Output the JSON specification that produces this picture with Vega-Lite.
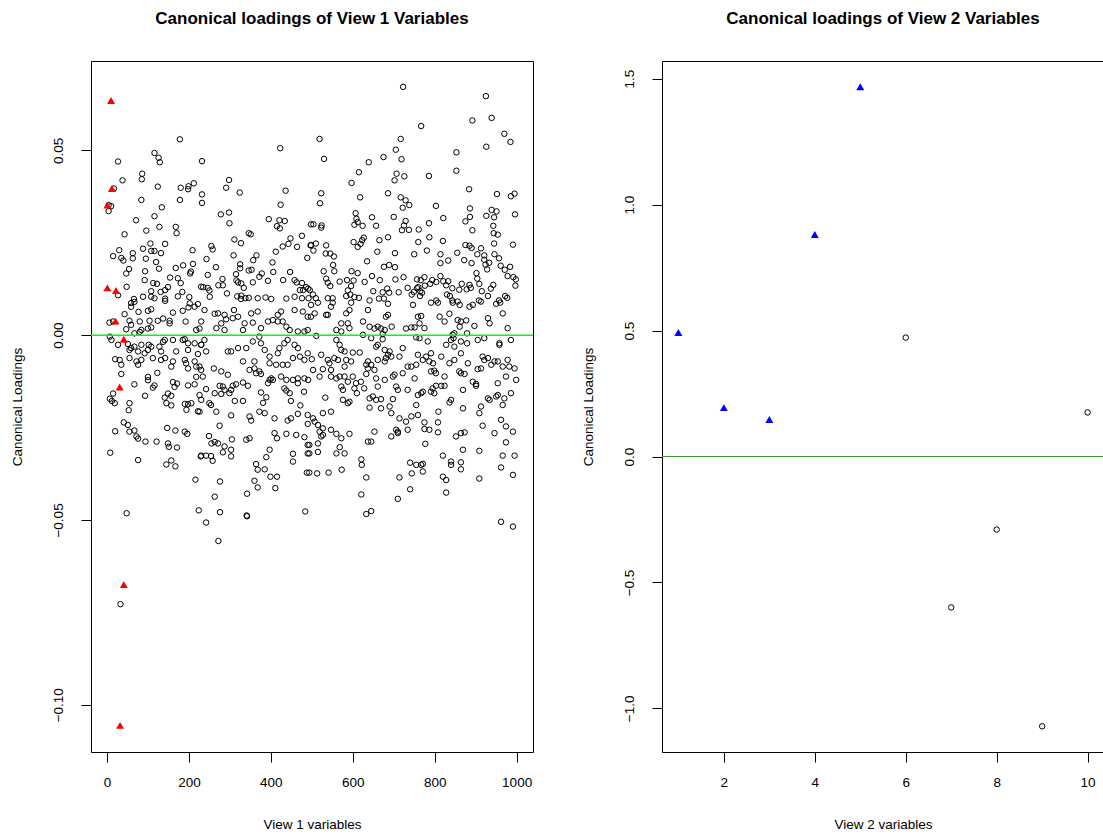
{
"$schema": "https://vega.github.io/schema/vega-lite/v6.json",
"background": "white",
"padding": {"left": 9, "top": 9, "right": 0, "bottom": 0},
"spacing": 45,
"config": {
  "font": "Liberation Sans",
  "view": {"stroke": "black", "strokeWidth": 1},
  "axis": {"domain": false, "grid": false, "ticks": true, "tickColor": "black", "tickSize": 10, "labelFont": "Liberation Sans", "labelFontSize": 13.5, "labelColor": "black", "labelOverlap": false, "labelFlush": false, "titleFont": "Liberation Sans", "titleFontSize": 13.5, "titleFontWeight": "normal", "titleColor": "black"},
  "axisX": {"labelPadding": 13, "titleY": 65},
  "axisY": {"labelAngle": -90, "labelAlign": "center", "labelBaseline": "alphabetic", "labelPadding": 19, "titleX": -67},
  "title": {"font": "Liberation Sans", "fontSize": 17, "fontWeight": "bold", "color": "black", "offset": 33, "frame": "group", "anchor": "middle"}
},
"datasets": {
"v1t": [{"x":10,"y":0.0635},{"x":12,"y":0.0397},{"x":1,"y":0.0352},{"x":1,"y":0.0128},{"x":22,"y":0.0121},{"x":21,"y":0.0038},{"x":41,"y":-0.0011},{"x":31,"y":-0.014},{"x":41,"y":-0.0675},{"x":32,"y":-0.1056}],
"v1c": [
{"x":178,"y":0.053},{"x":116,"y":0.0493},{"x":126,"y":0.048},{"x":129,"y":0.0468},{"x":27,"y":0.047},{"x":86,"y":0.0437},{"x":85,"y":0.0422},{"x":38,"y":0.0419},{"x":17,"y":0.0397},{"x":124,"y":0.0402},{"x":180,"y":0.0399},{"x":198,"y":0.0395},{"x":199,"y":0.0403},{"x":212,"y":0.0411},{"x":84,"y":0.0366},{"x":178,"y":0.0366},{"x":134,"y":0.0346},{"x":4,"y":0.0352},{"x":10,"y":0.0349},{"x":4,"y":0.0336},{"x":116,"y":0.0322},{"x":71,"y":0.0311},{"x":128,"y":0.0293},{"x":168,"y":0.0293},{"x":170,"y":0.0276},{"x":96,"y":0.0283},{"x":43,"y":0.0273},{"x":106,"y":0.0248},{"x":142,"y":0.0247},{"x":88,"y":0.0234},{"x":108,"y":0.0228},{"x":116,"y":0.0228},{"x":30,"y":0.023},{"x":15,"y":0.0214},{"x":35,"y":0.0209},{"x":40,"y":0.0202},{"x":63,"y":0.0222},{"x":63,"y":0.0208},{"x":95,"y":0.0207},{"x":132,"y":0.0222},{"x":209,"y":0.023},{"x":120,"y":0.0198},{"x":127,"y":0.018},{"x":54,"y":0.0179},{"x":47,"y":0.0167},{"x":93,"y":0.0173},{"x":168,"y":0.0182},{"x":186,"y":0.0189},{"x":210,"y":0.0193},{"x":205,"y":0.0172},{"x":203,"y":0.0167},{"x":92,"y":0.0149},{"x":154,"y":0.0156},{"x":173,"y":0.0154},{"x":180,"y":0.0141},{"x":113,"y":0.0141},{"x":122,"y":0.0139},{"x":149,"y":0.013},{"x":142,"y":0.0122},{"x":48,"y":0.0131},{"x":108,"y":0.0119},{"x":131,"y":0.0117},{"x":184,"y":0.0117},{"x":201,"y":0.0103},{"x":173,"y":0.0105},{"x":88,"y":0.0104},{"x":108,"y":0.0104},{"x":116,"y":0.01},{"x":66,"y":0.0098},{"x":142,"y":0.0099},{"x":27,"y":0.0108},{"x":230,"y":0.0131},{"x":232,"y":0.0471},{"x":232,"y":0.0381},{"x":232,"y":0.0358},
{"x":423,"y":0.0506},{"x":298,"y":0.042},{"x":291,"y":0.0399},{"x":324,"y":0.0386},{"x":436,"y":0.0391},{"x":424,"y":0.0353},{"x":278,"y":0.0327},{"x":298,"y":0.0332},{"x":299,"y":0.0303},{"x":395,"y":0.0314},{"x":421,"y":0.0311},{"x":415,"y":0.0295},{"x":422,"y":0.0289},{"x":434,"y":0.0309},{"x":498,"y":0.03},{"x":346,"y":0.0276},{"x":351,"y":0.0273},{"x":311,"y":0.0259},{"x":327,"y":0.0249},{"x":448,"y":0.0262},{"x":443,"y":0.0247},{"x":429,"y":0.024},{"x":476,"y":0.0269},{"x":464,"y":0.0239},{"x":497,"y":0.0243},{"x":255,"y":0.0241},{"x":258,"y":0.0232},{"x":412,"y":0.0226},{"x":309,"y":0.0216},{"x":365,"y":0.0216},{"x":357,"y":0.0203},{"x":243,"y":0.0206},{"x":489,"y":0.0209},{"x":404,"y":0.0197},{"x":266,"y":0.0184},{"x":325,"y":0.0192},{"x":325,"y":0.0181},{"x":346,"y":0.0175},{"x":353,"y":0.0177},{"x":246,"y":0.0163},{"x":315,"y":0.0165},{"x":378,"y":0.0167},{"x":372,"y":0.0158},{"x":406,"y":0.0171},{"x":447,"y":0.0171},{"x":282,"y":0.0152},{"x":272,"y":0.0135},{"x":283,"y":0.0135},{"x":316,"y":0.0148},{"x":320,"y":0.0143},{"x":328,"y":0.014},{"x":334,"y":0.0128},{"x":356,"y":0.0143},{"x":393,"y":0.0147},{"x":430,"y":0.0149},{"x":458,"y":0.0149},{"x":463,"y":0.0143},{"x":476,"y":0.0141},{"x":235,"y":0.013},{"x":246,"y":0.0128},{"x":250,"y":0.0121},{"x":471,"y":0.0122},{"x":479,"y":0.0122},{"x":486,"y":0.013},{"x":495,"y":0.0122},{"x":251,"y":0.0104},{"x":293,"y":0.0113},{"x":318,"y":0.0105},{"x":328,"y":0.0107},{"x":338,"y":0.01},{"x":327,"y":0.0098},{"x":346,"y":0.0101},{"x":368,"y":0.01},{"x":387,"y":0.0102},{"x":401,"y":0.0098},{"x":438,"y":0.0099},{"x":458,"y":0.0104},{"x":476,"y":0.01},{"x":492,"y":0.01},
{"x":723,"y":0.0672},{"x":767,"y":0.0566},{"x":519,"y":0.0531},{"x":717,"y":0.0531},{"x":705,"y":0.0502},{"x":719,"y":0.0476},{"x":530,"y":0.0477},{"x":675,"y":0.0482},{"x":639,"y":0.0468},{"x":615,"y":0.0441},{"x":707,"y":0.0437},{"x":702,"y":0.0419},{"x":726,"y":0.043},{"x":597,"y":0.0412},{"x":523,"y":0.0384},{"x":520,"y":0.0357},{"x":618,"y":0.0373},{"x":686,"y":0.0384},{"x":717,"y":0.0373},{"x":729,"y":0.0365},{"x":738,"y":0.0352},{"x":722,"y":0.0345},{"x":607,"y":0.033},{"x":609,"y":0.0315},{"x":612,"y":0.0306},{"x":604,"y":0.0299},{"x":624,"y":0.0296},{"x":647,"y":0.0319},{"x":657,"y":0.0296},{"x":700,"y":0.032},{"x":729,"y":0.0309},{"x":725,"y":0.0297},{"x":720,"y":0.0284},{"x":737,"y":0.0285},{"x":504,"y":0.03},{"x":524,"y":0.0297},{"x":523,"y":0.0291},{"x":761,"y":0.0286},{"x":602,"y":0.0252},{"x":612,"y":0.0239},{"x":619,"y":0.0247},{"x":627,"y":0.0264},{"x":623,"y":0.0257},{"x":665,"y":0.0257},{"x":686,"y":0.0265},{"x":760,"y":0.0252},{"x":498,"y":0.0244},{"x":510,"y":0.0248},{"x":504,"y":0.0229},{"x":535,"y":0.0243},{"x":534,"y":0.0221},{"x":545,"y":0.0221},{"x":554,"y":0.0213},{"x":660,"y":0.0226},{"x":703,"y":0.0222},{"x":750,"y":0.0219},{"x":635,"y":0.02},{"x":552,"y":0.019},{"x":555,"y":0.0173},{"x":676,"y":0.0185},{"x":689,"y":0.019},{"x":703,"y":0.0184},{"x":529,"y":0.0173},{"x":597,"y":0.0173},{"x":612,"y":0.0168},{"x":647,"y":0.016},{"x":666,"y":0.0149},{"x":535,"y":0.0153},{"x":539,"y":0.0142},{"x":545,"y":0.0133},{"x":568,"y":0.0145},{"x":586,"y":0.0149},{"x":602,"y":0.0148},{"x":596,"y":0.0133},{"x":629,"y":0.0144},{"x":704,"y":0.0151},{"x":724,"y":0.0157},{"x":757,"y":0.0151},{"x":491,"y":0.0126},{"x":503,"y":0.011},{"x":510,"y":0.01},{"x":539,"y":0.01},{"x":551,"y":0.01},{"x":588,"y":0.0121},{"x":594,"y":0.011},{"x":584,"y":0.0106},{"x":604,"y":0.0103},{"x":615,"y":0.0101},{"x":650,"y":0.0119},{"x":673,"y":0.0116},{"x":684,"y":0.0126},{"x":689,"y":0.0115},{"x":712,"y":0.0116},{"x":734,"y":0.0128},{"x":744,"y":0.011},{"x":749,"y":0.0117},{"x":757,"y":0.0127},{"x":765,"y":0.0119},{"x":664,"y":0.0099},{"x":676,"y":0.0099},
{"x":925,"y":0.0647},{"x":892,"y":0.0581},{"x":939,"y":0.0588},{"x":970,"y":0.0545},{"x":985,"y":0.0523},{"x":926,"y":0.051},{"x":853,"y":0.0495},{"x":853,"y":0.0445},{"x":786,"y":0.0431},{"x":884,"y":0.0395},{"x":952,"y":0.0382},{"x":986,"y":0.0376},{"x":995,"y":0.0383},{"x":803,"y":0.035},{"x":886,"y":0.0343},{"x":886,"y":0.032},{"x":875,"y":0.0308},{"x":939,"y":0.0339},{"x":951,"y":0.0335},{"x":945,"y":0.0319},{"x":926,"y":0.0323},{"x":996,"y":0.0327},{"x":821,"y":0.0317},{"x":786,"y":0.0303},{"x":787,"y":0.0265},{"x":820,"y":0.0255},{"x":892,"y":0.0284},{"x":943,"y":0.0296},{"x":944,"y":0.0276},{"x":954,"y":0.0272},{"x":945,"y":0.0248},{"x":875,"y":0.0244},{"x":885,"y":0.0242},{"x":890,"y":0.0236},{"x":913,"y":0.0235},{"x":991,"y":0.0245},{"x":781,"y":0.0229},{"x":855,"y":0.0223},{"x":814,"y":0.0219},{"x":814,"y":0.0195},{"x":833,"y":0.0202},{"x":872,"y":0.0203},{"x":890,"y":0.0195},{"x":904,"y":0.0219},{"x":921,"y":0.0216},{"x":921,"y":0.0204},{"x":933,"y":0.0196},{"x":924,"y":0.0191},{"x":928,"y":0.0178},{"x":946,"y":0.0219},{"x":957,"y":0.0208},{"x":961,"y":0.0188},{"x":971,"y":0.0177},{"x":984,"y":0.0185},{"x":978,"y":0.016},{"x":992,"y":0.0157},{"x":998,"y":0.0151},{"x":997,"y":0.0134},{"x":902,"y":0.0168},{"x":904,"y":0.0153},{"x":775,"y":0.0157},{"x":794,"y":0.0149},{"x":814,"y":0.016},{"x":804,"y":0.0144},{"x":789,"y":0.0139},{"x":766,"y":0.0149},{"x":760,"y":0.013},{"x":776,"y":0.0134},{"x":769,"y":0.0115},{"x":821,"y":0.0146},{"x":833,"y":0.0146},{"x":828,"y":0.0135},{"x":866,"y":0.0139},{"x":885,"y":0.0136},{"x":878,"y":0.0124},{"x":888,"y":0.0128},{"x":909,"y":0.0139},{"x":915,"y":0.0119},{"x":930,"y":0.0106},{"x":943,"y":0.0136},{"x":937,"y":0.0126},{"x":830,"y":0.011},{"x":837,"y":0.0106},{"x":843,"y":0.0127},{"x":860,"y":0.0123},{"x":972,"y":0.0106},{"x":977,"y":0.0101},{"x":764,"y":0.0106},{"x":804,"y":0.0094},{"x":843,"y":0.0094},{"x":908,"y":0.0094},{"x":957,"y":0.0094},
{"x":59,"y":0.0087},{"x":142,"y":0.0093},{"x":202,"y":0.0086},{"x":222,"y":0.0084},{"x":67,"y":0.009},{"x":43,"y":0.0057},{"x":59,"y":0.0077},{"x":77,"y":0.0063},{"x":100,"y":0.0066},{"x":108,"y":0.007},{"x":161,"y":0.0061},{"x":185,"y":0.0066},{"x":199,"y":0.0075},{"x":214,"y":0.0077},{"x":6,"y":0.0034},{"x":15,"y":0.0037},{"x":55,"y":0.0039},{"x":59,"y":0.0028},{"x":80,"y":0.0037},{"x":104,"y":0.0039},{"x":108,"y":0.0021},{"x":124,"y":0.0039},{"x":137,"y":0.0045},{"x":153,"y":0.0039},{"x":153,"y":0.0032},{"x":192,"y":0.0037},{"x":47,"y":0.0016},{"x":67,"y":0.0005},{"x":84,"y":0.0014},{"x":100,"y":0.0018},{"x":80,"y":0.0009},{"x":218,"y":0.0014},{"x":226,"y":0.0018},{"x":7,"y":-0.0004},{"x":11,"y":-0.0013},{"x":27,"y":-0.0026},{"x":51,"y":-0.0024},{"x":59,"y":-0.0035},{"x":67,"y":-0.0031},{"x":84,"y":-0.0026},{"x":102,"y":-0.0026},{"x":108,"y":-0.0031},{"x":128,"y":-0.0031},{"x":137,"y":-0.0018},{"x":141,"y":-0.0013},{"x":161,"y":-0.0013},{"x":185,"y":-0.0013},{"x":190,"y":-0.0011},{"x":198,"y":-0.0022},{"x":214,"y":-0.0022},{"x":230,"y":-0.0026},{"x":55,"y":-0.004},{"x":76,"y":-0.0044},{"x":92,"y":-0.0049},{"x":100,"y":-0.004},{"x":132,"y":-0.0044},{"x":142,"y":-0.0062},{"x":169,"y":-0.0044},{"x":198,"y":-0.004},{"x":222,"y":-0.0051},{"x":20,"y":-0.0065},{"x":31,"y":-0.0067},{"x":35,"y":-0.008},{"x":55,"y":-0.0062},{"x":72,"y":-0.0071},{"x":76,"y":-0.008},{"x":84,"y":-0.0067},{"x":112,"y":-0.0062},{"x":132,"y":-0.0067},{"x":161,"y":-0.0071},{"x":157,"y":-0.0085},{"x":190,"y":-0.0067},{"x":193,"y":-0.0076},{"x":198,"y":-0.009},{"x":214,"y":-0.0071},{"x":218,"y":-0.0085},{"x":35,"y":-0.0105},{"x":123,"y":-0.0102},{"x":100,"y":-0.0113},{"x":100,"y":-0.0122},{"x":116,"y":-0.0136},{"x":112,"y":-0.0142},{"x":67,"y":-0.0133},{"x":161,"y":-0.0127},{"x":165,"y":-0.014},{"x":149,"y":-0.0158},{"x":157,"y":-0.0164},{"x":171,"y":-0.0131},{"x":198,"y":-0.0136},{"x":214,"y":-0.0133},{"x":218,"y":-0.0113},{"x":15,"y":-0.0158},{"x":7,"y":-0.0172},{"x":12,"y":-0.0178},{"x":19,"y":-0.0184},{"x":93,"y":-0.0164},{"x":141,"y":-0.0169},{"x":145,"y":-0.0184},{"x":157,"y":-0.019},{"x":190,"y":-0.0186},{"x":198,"y":-0.0187},{"x":206,"y":-0.0184},{"x":194,"y":-0.0202},{"x":55,"y":-0.0184},{"x":53,"y":-0.0203},{"x":222,"y":-0.0206},{"x":41,"y":-0.0236},{"x":51,"y":-0.0243},{"x":20,"y":-0.026},{"x":55,"y":-0.0261},{"x":67,"y":-0.0258},{"x":72,"y":-0.0274},{"x":76,"y":-0.028},{"x":94,"y":-0.0288},{"x":121,"y":-0.0288},{"x":147,"y":-0.0251},{"x":167,"y":-0.0258},{"x":190,"y":-0.0261},{"x":196,"y":-0.0267},{"x":149,"y":-0.0293},{"x":151,"y":-0.0302},{"x":171,"y":-0.0304},{"x":8,"y":-0.0318},{"x":76,"y":-0.0338},{"x":157,"y":-0.0339},{"x":145,"y":-0.035},{"x":167,"y":-0.0355},{"x":229,"y":-0.0328},{"x":216,"y":-0.0391},{"x":48,"y":-0.0482},{"x":224,"y":-0.0474},
{"x":238,"y":0.0068},{"x":263,"y":0.0058},{"x":271,"y":0.0059},{"x":287,"y":0.0055},{"x":291,"y":0.0043},{"x":279,"y":0.0032},{"x":267,"y":0.0019},{"x":287,"y":0.0014},{"x":310,"y":0.0068},{"x":307,"y":0.0046},{"x":320,"y":0.005},{"x":336,"y":0.0032},{"x":332,"y":0.0014},{"x":352,"y":0.0059},{"x":368,"y":0.0064},{"x":356,"y":0.0034},{"x":376,"y":0.0019},{"x":393,"y":0.0037},{"x":405,"y":0.0041},{"x":417,"y":0.0055},{"x":425,"y":0.0064},{"x":417,"y":0.0037},{"x":429,"y":0.0037},{"x":438,"y":0.0023},{"x":446,"y":0.0014},{"x":458,"y":0.0068},{"x":478,"y":0.0064},{"x":490,"y":0.005},{"x":466,"y":0.001},{"x":482,"y":0.001},{"x":490,"y":0.0014},{"x":230,"y":0.0037},{"x":238,"y":-0.0013},{"x":230,"y":-0.0026},{"x":242,"y":-0.0044},{"x":295,"y":-0.0044},{"x":303,"y":-0.0044},{"x":320,"y":-0.0035},{"x":340,"y":-0.0035},{"x":356,"y":-0.0017},{"x":372,"y":-0.0004},{"x":376,"y":-0.0022},{"x":385,"y":-0.004},{"x":397,"y":-0.0058},{"x":417,"y":-0.0049},{"x":421,"y":-0.0035},{"x":433,"y":-0.0022},{"x":441,"y":-0.0013},{"x":458,"y":-0.0026},{"x":466,"y":-0.0035},{"x":454,"y":-0.0062},{"x":471,"y":-0.0058},{"x":482,"y":-0.0067},{"x":490,"y":-0.0049},{"x":332,"y":-0.0071},{"x":360,"y":-0.0071},{"x":397,"y":-0.0076},{"x":413,"y":-0.008},{"x":429,"y":-0.008},{"x":441,"y":-0.008},{"x":226,"y":-0.0085},{"x":230,"y":-0.0094},{"x":234,"y":-0.0112},{"x":261,"y":-0.009},{"x":279,"y":-0.0098},{"x":295,"y":-0.0107},{"x":348,"y":-0.0094},{"x":360,"y":-0.009},{"x":364,"y":-0.0103},{"x":372,"y":-0.0098},{"x":376,"y":-0.0105},{"x":397,"y":-0.0121},{"x":401,"y":-0.0117},{"x":393,"y":-0.013},{"x":405,"y":-0.0121},{"x":425,"y":-0.0112},{"x":438,"y":-0.0121},{"x":454,"y":-0.0121},{"x":466,"y":-0.0117},{"x":466,"y":-0.013},{"x":482,"y":-0.0117},{"x":332,"y":-0.0128},{"x":344,"y":-0.0137},{"x":242,"y":-0.0146},{"x":275,"y":-0.0137},{"x":283,"y":-0.0139},{"x":287,"y":-0.0148},{"x":307,"y":-0.0137},{"x":315,"y":-0.0133},{"x":263,"y":-0.0157},{"x":279,"y":-0.0159},{"x":299,"y":-0.0157},{"x":303,"y":-0.0148},{"x":376,"y":-0.0155},{"x":389,"y":-0.0168},{"x":381,"y":-0.0183},{"x":433,"y":-0.0144},{"x":438,"y":-0.015},{"x":446,"y":-0.0157},{"x":481,"y":-0.0153},{"x":226,"y":-0.0162},{"x":230,"y":-0.0175},{"x":250,"y":-0.0184},{"x":254,"y":-0.0189},{"x":312,"y":-0.0178},{"x":332,"y":-0.0178},{"x":449,"y":-0.0178},{"x":472,"y":-0.019},{"x":226,"y":-0.0207},{"x":267,"y":-0.0207},{"x":303,"y":-0.0217},{"x":348,"y":-0.022},{"x":352,"y":-0.0231},{"x":372,"y":-0.0207},{"x":385,"y":-0.0211},{"x":409,"y":-0.0225},{"x":441,"y":-0.0231},{"x":449,"y":-0.0225},{"x":466,"y":-0.0213},{"x":490,"y":-0.024},{"x":275,"y":-0.0245},{"x":249,"y":-0.0273},{"x":255,"y":-0.0293},{"x":263,"y":-0.0289},{"x":271,"y":-0.0293},{"x":287,"y":-0.0301},{"x":303,"y":-0.031},{"x":303,"y":-0.0328},{"x":283,"y":-0.0317},{"x":305,"y":-0.0282},{"x":340,"y":-0.0283},{"x":348,"y":-0.0279},{"x":230,"y":-0.0326},{"x":242,"y":-0.0326},{"x":254,"y":-0.0327},{"x":258,"y":-0.034},{"x":409,"y":-0.0265},{"x":415,"y":-0.0279},{"x":438,"y":-0.0267},{"x":462,"y":-0.027},{"x":482,"y":-0.0276},{"x":490,"y":-0.0297},{"x":397,"y":-0.031},{"x":389,"y":-0.033},{"x":454,"y":-0.0321},{"x":454,"y":-0.0342},{"x":490,"y":-0.032},{"x":364,"y":-0.0349},{"x":368,"y":-0.0364},{"x":385,"y":-0.0363},{"x":399,"y":-0.0383},{"x":415,"y":-0.0383},{"x":360,"y":-0.0394},{"x":368,"y":-0.0412},{"x":411,"y":-0.0414},{"x":276,"y":-0.0396},{"x":263,"y":-0.0437},{"x":342,"y":-0.0429},{"x":488,"y":-0.0372},{"x":276,"y":-0.0479},{"x":341,"y":-0.0488},{"x":342,"y":-0.049},{"x":484,"y":-0.0477},{"x":242,"y":-0.0507},{"x":272,"y":-0.0557},{"x":33,"y":-0.0728},
{"x":498,"y":0.0082},{"x":515,"y":0.0088},{"x":535,"y":0.0055},{"x":539,"y":0.0055},{"x":547,"y":0.0077},{"x":551,"y":0.0088},{"x":584,"y":0.0059},{"x":592,"y":0.0068},{"x":596,"y":0.0088},{"x":637,"y":0.0068},{"x":641,"y":0.0094},{"x":686,"y":0.0085},{"x":686,"y":0.0055},{"x":681,"y":0.005},{"x":747,"y":0.0082},{"x":759,"y":0.005},{"x":767,"y":0.0052},{"x":498,"y":0.005},{"x":507,"y":0.0059},{"x":625,"y":0.0037},{"x":572,"y":0.0032},{"x":588,"y":0.0032},{"x":592,"y":0.0019},{"x":560,"y":0.0014},{"x":572,"y":0.001},{"x":641,"y":0.0023},{"x":653,"y":0.0018},{"x":661,"y":0.0023},{"x":669,"y":0.0018},{"x":678,"y":0.0014},{"x":695,"y":0.0023},{"x":730,"y":0.0018},{"x":743,"y":0.0021},{"x":751,"y":0.0021},{"x":511,"y":-0.0002},{"x":625,"y":0.0001},{"x":645,"y":-0.0008},{"x":673,"y":0.0003},{"x":673,"y":-0.0011},{"x":755,"y":-0.0006},{"x":763,"y":-0.0008},{"x":560,"y":-0.0013},{"x":568,"y":-0.0026},{"x":572,"y":-0.004},{"x":580,"y":-0.0044},{"x":600,"y":-0.0047},{"x":617,"y":-0.0047},{"x":657,"y":-0.0031},{"x":661,"y":-0.0026},{"x":678,"y":-0.004},{"x":690,"y":-0.0044},{"x":686,"y":-0.0053},{"x":681,"y":-0.0062},{"x":678,"y":-0.0071},{"x":694,"y":-0.0058},{"x":722,"y":-0.0035},{"x":714,"y":-0.0058},{"x":500,"y":-0.0065},{"x":523,"y":-0.0053},{"x":539,"y":-0.0067},{"x":543,"y":-0.0076},{"x":555,"y":-0.0062},{"x":564,"y":-0.0067},{"x":584,"y":-0.0067},{"x":580,"y":-0.0085},{"x":596,"y":-0.0071},{"x":637,"y":-0.0071},{"x":633,"y":-0.008},{"x":645,"y":-0.008},{"x":661,"y":-0.0067},{"x":653,"y":-0.0094},{"x":734,"y":-0.0085},{"x":743,"y":-0.0085},{"x":755,"y":-0.008},{"x":759,"y":-0.0053},{"x":503,"y":-0.0094},{"x":527,"y":-0.0092},{"x":547,"y":-0.0094},{"x":547,"y":-0.0112},{"x":560,"y":-0.0117},{"x":568,"y":-0.0112},{"x":580,"y":-0.0112},{"x":600,"y":-0.0112},{"x":588,"y":-0.0126},{"x":491,"y":-0.0121},{"x":519,"y":-0.0112},{"x":633,"y":-0.0105},{"x":637,"y":-0.009},{"x":657,"y":-0.0117},{"x":678,"y":-0.0121},{"x":698,"y":-0.0112},{"x":702,"y":-0.0107},{"x":722,"y":-0.0103},{"x":751,"y":-0.0117},{"x":734,"y":-0.0148},{"x":608,"y":-0.013},{"x":620,"y":-0.0126},{"x":628,"y":-0.0144},{"x":604,"y":-0.0144},{"x":610,"y":-0.0157},{"x":661,"y":-0.0139},{"x":572,"y":-0.0139},{"x":576,"y":-0.0148},{"x":706,"y":-0.0139},{"x":710,"y":-0.0148},{"x":533,"y":-0.0169},{"x":576,"y":-0.0175},{"x":588,"y":-0.0184},{"x":592,"y":-0.018},{"x":641,"y":-0.0171},{"x":649,"y":-0.0166},{"x":657,"y":-0.0175},{"x":669,"y":-0.0173},{"x":698,"y":-0.0173},{"x":690,"y":-0.0193},{"x":641,"y":-0.0196},{"x":669,"y":-0.0198},{"x":694,"y":-0.0211},{"x":755,"y":-0.0189},{"x":759,"y":-0.0216},{"x":743,"y":-0.022},{"x":714,"y":-0.0225},{"x":730,"y":-0.0234},{"x":734,"y":-0.0256},{"x":706,"y":-0.0256},{"x":710,"y":-0.0265},{"x":694,"y":-0.0274},{"x":759,"y":-0.0162},{"x":490,"y":-0.0216},{"x":503,"y":-0.0225},{"x":507,"y":-0.0234},{"x":515,"y":-0.0243},{"x":527,"y":-0.0211},{"x":547,"y":-0.0207},{"x":527,"y":-0.0252},{"x":519,"y":-0.0261},{"x":527,"y":-0.027},{"x":523,"y":-0.0274},{"x":547,"y":-0.0256},{"x":560,"y":-0.0267},{"x":572,"y":-0.0279},{"x":592,"y":-0.0267},{"x":653,"y":-0.0261},{"x":637,"y":-0.0288},{"x":645,"y":-0.0288},{"x":710,"y":-0.0261},{"x":494,"y":-0.0297},{"x":515,"y":-0.0293},{"x":494,"y":-0.032},{"x":515,"y":-0.0316},{"x":568,"y":-0.0303},{"x":560,"y":-0.032},{"x":580,"y":-0.032},{"x":621,"y":-0.0336},{"x":622,"y":-0.0351},{"x":633,"y":-0.0385},{"x":494,"y":-0.0372},{"x":513,"y":-0.0374},{"x":541,"y":-0.0372},{"x":573,"y":-0.0364},{"x":740,"y":-0.0345},{"x":755,"y":-0.0351},{"x":744,"y":-0.0374},{"x":714,"y":-0.0385},{"x":767,"y":-0.0351},{"x":740,"y":-0.0417},{"x":710,"y":-0.0443},{"x":621,"y":-0.0431},{"x":633,"y":-0.0484},{"x":645,"y":-0.0476},
{"x":791,"y":0.0088},{"x":808,"y":0.0088},{"x":844,"y":0.0088},{"x":856,"y":0.0091},{"x":861,"y":0.0082},{"x":885,"y":0.0077},{"x":893,"y":0.0082},{"x":913,"y":0.0091},{"x":950,"y":0.0085},{"x":960,"y":0.0088},{"x":812,"y":0.005},{"x":824,"y":0.0037},{"x":836,"y":0.0058},{"x":856,"y":0.0041},{"x":864,"y":0.0037},{"x":861,"y":0.0023},{"x":877,"y":0.004},{"x":897,"y":0.0025},{"x":930,"y":0.0046},{"x":934,"y":0.0032},{"x":966,"y":0.0059},{"x":978,"y":0.0019},{"x":763,"y":0.0032},{"x":775,"y":0.0019},{"x":844,"y":0.0001},{"x":848,"y":0.0005},{"x":846,"y":-0.0008},{"x":840,"y":-0.0013},{"x":848,"y":-0.0031},{"x":828,"y":-0.0026},{"x":864,"y":-0.0017},{"x":879,"y":0.0005},{"x":879,"y":-0.0022},{"x":905,"y":-0.0013},{"x":921,"y":-0.0008},{"x":958,"y":-0.0022},{"x":958,"y":-0.0026},{"x":986,"y":-0.0013},{"x":783,"y":-0.0017},{"x":771,"y":-0.0067},{"x":779,"y":-0.0058},{"x":787,"y":-0.0071},{"x":791,"y":-0.0049},{"x":796,"y":-0.0076},{"x":816,"y":-0.0058},{"x":836,"y":-0.0076},{"x":848,"y":-0.0067},{"x":864,"y":-0.0049},{"x":881,"y":-0.0076},{"x":917,"y":-0.0058},{"x":921,"y":-0.0067},{"x":930,"y":-0.0062},{"x":938,"y":-0.008},{"x":946,"y":-0.0071},{"x":954,"y":-0.0071},{"x":966,"y":-0.0085},{"x":978,"y":-0.0067},{"x":982,"y":-0.0085},{"x":995,"y":-0.009},{"x":999,"y":-0.0121},{"x":974,"y":-0.0112},{"x":954,"y":-0.013},{"x":913,"y":-0.009},{"x":905,"y":-0.0092},{"x":791,"y":-0.0098},{"x":799,"y":-0.0096},{"x":803,"y":-0.0103},{"x":824,"y":-0.0112},{"x":860,"y":-0.0098},{"x":864,"y":-0.0103},{"x":873,"y":-0.0105},{"x":816,"y":-0.0137},{"x":824,"y":-0.0137},{"x":803,"y":-0.0137},{"x":795,"y":-0.0144},{"x":791,"y":-0.0153},{"x":799,"y":-0.0157},{"x":767,"y":-0.0157},{"x":771,"y":-0.0153},{"x":840,"y":-0.0175},{"x":836,"y":-0.0182},{"x":869,"y":-0.0148},{"x":893,"y":-0.0126},{"x":901,"y":-0.0132},{"x":901,"y":-0.0137},{"x":930,"y":-0.0171},{"x":934,"y":-0.0175},{"x":954,"y":-0.0162},{"x":950,"y":-0.0166},{"x":970,"y":-0.0171},{"x":966,"y":-0.0189},{"x":986,"y":-0.0157},{"x":809,"y":-0.0207},{"x":869,"y":-0.0198},{"x":913,"y":-0.0193},{"x":909,"y":-0.0211},{"x":962,"y":-0.0229},{"x":974,"y":-0.0247},{"x":991,"y":-0.0261},{"x":974,"y":-0.029},{"x":946,"y":-0.0265},{"x":917,"y":-0.0245},{"x":873,"y":-0.0263},{"x":864,"y":-0.0265},{"x":852,"y":-0.0274},{"x":808,"y":-0.0236},{"x":808,"y":-0.0263},{"x":775,"y":-0.0236},{"x":775,"y":-0.0254},{"x":787,"y":-0.0256},{"x":777,"y":-0.0294},{"x":869,"y":-0.031},{"x":909,"y":-0.0313},{"x":966,"y":-0.0326},{"x":995,"y":-0.0326},{"x":962,"y":-0.0358},{"x":991,"y":-0.0378},{"x":909,"y":-0.0388},{"x":820,"y":-0.0326},{"x":840,"y":-0.0342},{"x":840,"y":-0.0351},{"x":864,"y":-0.0344},{"x":864,"y":-0.0363},{"x":771,"y":-0.0348},{"x":771,"y":-0.0369},{"x":820,"y":-0.0383},{"x":828,"y":-0.0392},{"x":828,"y":-0.0426},{"x":962,"y":-0.0505},{"x":991,"y":-0.0518}
],
"v2t": [{"x":1,"y":0.492},{"x":2,"y":0.194},{"x":3,"y":0.147},{"x":4,"y":0.881},{"x":5,"y":1.468}],
"v2c": [{"x":6,"y":0.472},{"x":7,"y":-0.599},{"x":8,"y":-0.29},{"x":9,"y":-1.071},{"x":10,"y":0.175}]
},
"hconcat": [
{
  "title": "Canonical loadings of View 1 Variables",
  "width": 442, "height": 691,
  "layer": [
    {"data": {"name": "v1c"}, "mark": {"type": "point", "shape": "circle", "filled": false, "stroke": "black", "strokeWidth": 1, "size": 30, "opacity": 1},
     "encoding": {
       "x": {"field": "x", "type": "quantitative", "scale": {"domain": [-38.96, 1039.96], "nice": false, "zero": false}, "axis": {"values": [0,200,400,600,800,1000], "format": "d", "title": "View 1 variables"}},
       "y": {"field": "y", "type": "quantitative", "scale": {"domain": [-0.1128, 0.0742], "nice": false, "zero": false}, "axis": {"values": [-0.1,-0.05,0,0.05], "format": ".2f", "title": "Canonical Loadings"}}
     }},
    {"data": {"name": "v1t"}, "mark": {"type": "point", "shape": "triangle-up", "filled": true, "color": "#ff0000", "size": 64, "opacity": 1},
     "encoding": {"x": {"field": "x", "type": "quantitative"}, "y": {"field": "y", "type": "quantitative"}}},
    {"data": {"values": [{}]}, "mark": {"type": "rule", "color": "#00ff00", "strokeWidth": 1.5}, "encoding": {"y": {"datum": 0, "type": "quantitative"}}}
  ]
},
{
  "title": "Canonical loadings of View 2 Variables",
  "width": 442, "height": 691,
  "layer": [
    {"data": {"name": "v2c"}, "mark": {"type": "point", "shape": "circle", "filled": false, "stroke": "black", "strokeWidth": 1, "size": 30, "opacity": 1},
     "encoding": {
       "x": {"field": "x", "type": "quantitative", "scale": {"domain": [0.64, 10.36], "nice": false, "zero": false}, "axis": {"values": [2,4,6,8,10], "format": "d", "title": "View 2 variables"}},
       "y": {"field": "y", "type": "quantitative", "scale": {"domain": [-1.173, 1.57], "nice": false, "zero": false}, "axis": {"values": [-1,-0.5,0,0.5,1,1.5], "format": ".1f", "title": "Canonical Loadings"}}
     }},
    {"data": {"name": "v2t"}, "mark": {"type": "point", "shape": "triangle-up", "filled": true, "color": "#0000ff", "size": 64, "opacity": 1},
     "encoding": {"x": {"field": "x", "type": "quantitative"}, "y": {"field": "y", "type": "quantitative"}}},
    {"data": {"values": [{}]}, "mark": {"type": "rule", "color": "#3c9a3c", "strokeWidth": 1}, "encoding": {"y": {"datum": 0, "type": "quantitative"}}}
  ]
}
]
}
